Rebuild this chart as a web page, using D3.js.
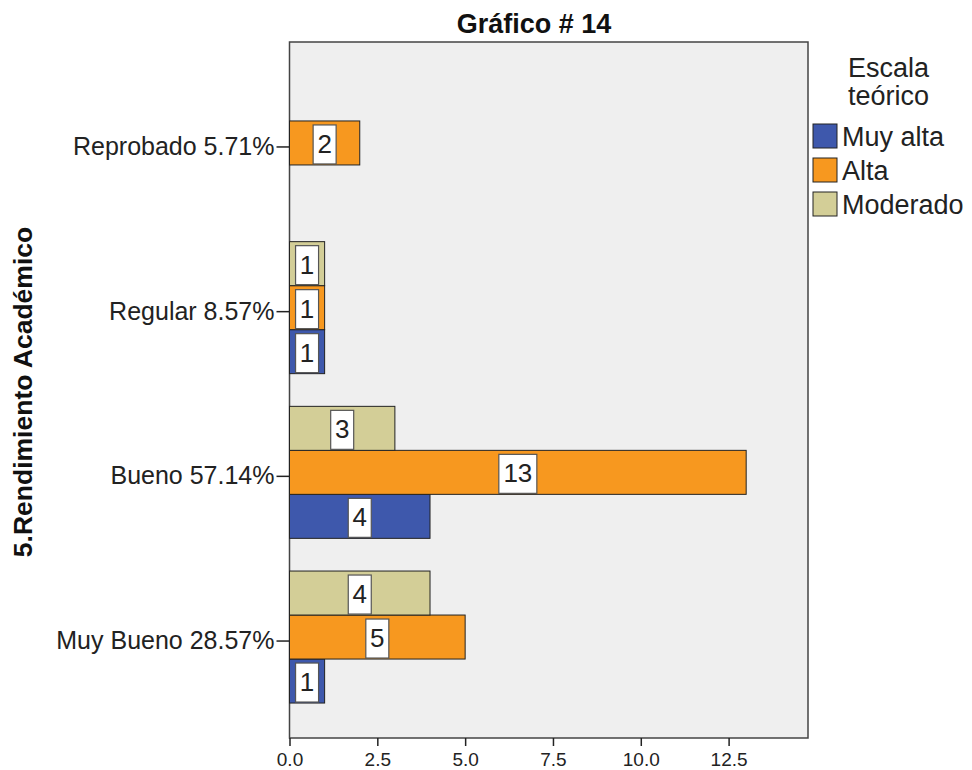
<!DOCTYPE html>
<html><head><meta charset="utf-8">
<script src="https://cdn.jsdelivr.net/npm/d3@7"></script>
<style>body{margin:0;background:#fff;} text{font-family:"Liberation Sans",Arial,sans-serif;}</style>
</head><body><svg id="c" width="972" height="770"></svg>
<script>
const categories = ["Reprobado 5.71%", "Regular 8.57%", "Bueno 57.14%", "Muy Bueno 28.57%"];
const seriesNames = ["Muy alta", "Alta", "Moderado"];
const muyAlta = [null, 1, 4, 1];
const alta = [2, 1, 13, 5];
const moderado = [null, 1, 3, 4];
const xTicks = [0, 2.5, 5, 7.5, 10, 12.5];
const colors = {"Muy alta": "#3e58ac", "Alta": "#f7981f", "Moderado": "#d3ce97"};
const seriesValues = {"Muy alta": muyAlta, "Alta": alta, "Moderado": moderado};

const svg = d3.select("#c");
const L = 289.5, R = 808, T = 42, B = 738;
const x = d3.scaleLinear().domain([0, 14.76]).range([L, R]);
const y = d3.scaleBand().domain(categories).range([T, B]).paddingInner(0).paddingOuter(0.113);
const sub = d3.scaleBand().domain(["Moderado", "Alta", "Muy alta"]).range([-66, 66]);

svg.append("rect").attr("x", L).attr("y", T).attr("width", R - L).attr("height", B - T)
  .attr("fill", "#efefef").attr("stroke", "#444").attr("stroke-width", 1.5);

// bars
const data = [];
categories.forEach((c, i) => seriesNames.forEach(s => {
  const v = seriesValues[s][i];
  if (v != null) data.push({c, s, v});
}));
const g = svg.append("g");
data.forEach(d => {
  const yc = y(d.c) + y.bandwidth() / 2;
  const y0 = yc + sub(d.s);
  g.append("rect").attr("x", x(0)).attr("y", y0).attr("width", x(d.v) - x(0)).attr("height", sub.bandwidth())
    .attr("fill", colors[d.s]).attr("stroke", "#222").attr("stroke-width", 1);
});
data.forEach(d => {
  const yc = y(d.c) + y.bandwidth() / 2;
  const ym = yc + sub(d.s) + sub.bandwidth() / 2;
  const xm = x(d.v / 2);
  const label = String(d.v);
  const w = label.length > 1 ? 38 : 23;
  g.append("rect").attr("x", xm - w / 2).attr("y", ym - 18).attr("width", w).attr("height", 39)
    .attr("fill", "#fff").attr("stroke", "#555").attr("stroke-width", 1.2);
  g.append("text").attr("x", xm).attr("y", ym + 10).attr("text-anchor", "middle")
    .attr("font-size", 26).attr("fill", "#222").text(label);
});

// x axis
const xa = svg.append("g").attr("transform", `translate(0,${B})`)
  .call(d3.axisBottom(x).tickValues(xTicks).tickFormat(d3.format(".1f")).tickSize(8).tickSizeOuter(0));
xa.select(".domain").remove();
xa.selectAll("line").attr("stroke", "#222").attr("stroke-width", 1.5);
xa.selectAll("text").attr("font-size", 19).attr("fill", "#222").attr("y", 11).attr("dy", "0.9em")
  .style("font-family", "'Liberation Sans',Arial,sans-serif");

// y axis
const ya = svg.append("g").attr("transform", `translate(${L},4)`)
  .call(d3.axisLeft(y).tickSize(13).tickSizeOuter(0).tickPadding(2));
ya.select(".domain").remove();
ya.selectAll("line").attr("stroke", "#222").attr("stroke-width", 1.5);
ya.selectAll("text").attr("font-size", 25).attr("fill", "#222")
  .style("font-family", "'Liberation Sans',Arial,sans-serif");

// titles
svg.append("text").attr("x", 534).attr("y", 33).attr("text-anchor", "middle")
  .attr("font-size", 27).attr("font-weight", "bold").attr("fill", "#111").text("Gráfico # 14");
svg.append("text").attr("transform", "translate(32,392) rotate(-90)").attr("text-anchor", "middle")
  .attr("font-size", 26.5).attr("font-weight", "bold").attr("fill", "#111").text("5.Rendimiento Académico");

// legend
const lg = svg.append("g");
lg.append("text").attr("x", 848).attr("y", 77).attr("font-size", 27).attr("fill", "#222").text("Escala");
lg.append("text").attr("x", 848).attr("y", 105).attr("font-size", 27).attr("fill", "#222").text("teórico");
seriesNames.forEach((s, i) => {
  const yy = 124 + i * 34;
  lg.append("rect").attr("x", 813).attr("y", yy).attr("width", 24).attr("height", 24)
    .attr("fill", colors[s]).attr("stroke", "#222").attr("stroke-width", 1);
  lg.append("text").attr("x", 842).attr("y", yy + 22).attr("font-size", 27).attr("fill", "#222").text(s);
});
</script></body></html>
